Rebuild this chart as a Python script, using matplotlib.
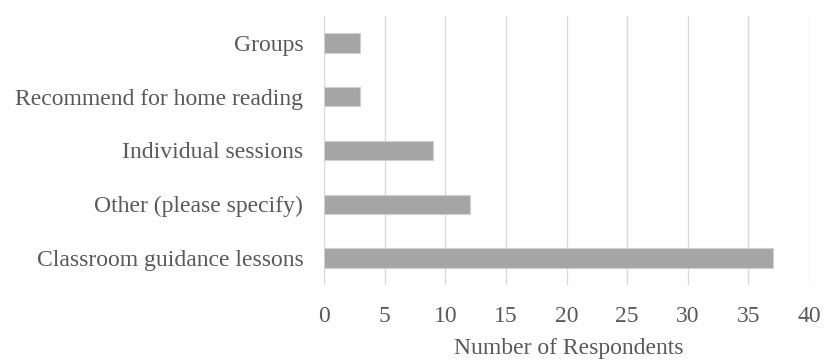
import matplotlib.pyplot as plt

# Survey responses by category
categories = ["Classroom guidance lessons", "Other (please specify)",
              "Individual sessions", "Recommend for home reading", "Groups"]
counts = [37, 12, 9, 3, 3]
x_ticks = [0, 5, 10, 15, 20, 25, 30, 35, 40]

plt.rcParams['font.family'] = ['Liberation Serif', 'DejaVu Serif']

fig = plt.figure(figsize=(8.31, 3.6), dpi=100)
ax = fig.add_axes([0.390, 0.2083, 0.5835, 0.7473])

ax.barh(range(len(categories)), counts, height=0.36, color='#a5a5a5',
        edgecolor='#d0d0d0', linewidth=0.8, zorder=3)

ax.set_xlim(0, 40)
ax.set_ylim(-0.5, len(categories) - 0.5)
ax.set_xticks(x_ticks)
ax.set_yticks(range(len(categories)))
ax.set_yticklabels(categories)
ax.grid(axis='x', color='#d9d9d9', linewidth=1.0, zorder=0)
for s in ax.spines.values():
    s.set_visible(False)
ax.tick_params(axis='both', length=0, labelsize=17, colors='#595959')
ax.tick_params(axis='y', pad=15)
ax.tick_params(axis='x', pad=15)
ax.set_xlabel("Number of Respondents", fontsize=17, color='#595959')
ax.xaxis.set_label_coords(0.505, -0.198)

fig.savefig("out.png", dpi=100)
